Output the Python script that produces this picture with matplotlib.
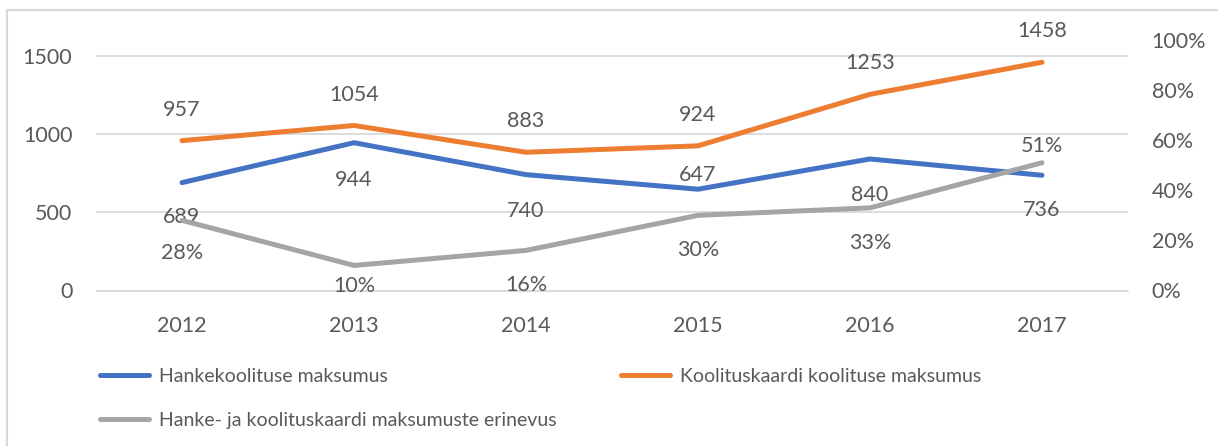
import matplotlib
matplotlib.use("Agg")
import matplotlib.pyplot as plt
from matplotlib.patches import Rectangle

# data
years = ["2012", "2013", "2014", "2015", "2016", "2017"]
hanke = [689, 944, 740, 647, 840, 736]
kaart = [957, 1054, 883, 924, 1253, 1458]
erinevus = [0.28, 0.10, 0.16, 0.30, 0.33, 0.51]

names = ["Hankekoolituse maksumus",
         "Koolituskaardi koolituse maksumus",
         "Hanke- ja koolituskaardi maksumuste erinevus"]

BLUE = "#4472C4"
ORANGE = "#ED7D31"
GRAY = "#A5A5A5"
TXT = "#595959"

plt.rcParams['font.family'] = ['Lato', 'DejaVu Sans']
FS = 15.5   # numbers
LFS = 14    # legend

fig = plt.figure(figsize=(12.18, 4.46), dpi=100)
fig.patches.append(Rectangle((7 / 1218, -0.01), 1.02, 1 - 10 / 446 + 0.01,
                             transform=fig.transFigure, fill=False,
                             edgecolor="#D9D9D9", linewidth=1.5))

ax = fig.add_axes([96 / 1218, 1 - 290.5 / 446, (1128 - 96) / 1218, (290.5 - 40) / 446])
ax2 = ax.twinx()

x = list(range(len(years)))
lw = 3.6
l1, = ax.plot(x, hanke, color=BLUE, lw=lw, solid_capstyle="round", zorder=3)
l2, = ax.plot(x, kaart, color=ORANGE, lw=lw, solid_capstyle="round", zorder=3)
l3, = ax2.plot(x, erinevus, color=GRAY, lw=lw, solid_capstyle="round", zorder=3)

ax.set_xlim(-0.5, len(years) - 0.5)
ax.set_ylim(0, 1600)
ax.set_yticks([0, 500, 1000, 1500])
ax2.set_ylim(0, 1)
ax2.set_yticks([0, 0.2, 0.4, 0.6, 0.8, 1.0])
ax2.set_yticklabels([f"{int(round(v * 100))}%" for v in ax2.get_yticks()])
ax.set_xticks(x)
ax.set_xticklabels(years)

ax.grid(axis="y", color="#D9D9D9", lw=1.3)
ax.set_axisbelow(True)
for a in (ax, ax2):
    for s in a.spines.values():
        s.set_visible(False)
    a.tick_params(length=0, labelsize=FS, labelcolor=TXT)
ax.tick_params(axis="y", pad=17)
ax.tick_params(axis="x", pad=18)
ax2.tick_params(axis="y", pad=17)
ax.spines["bottom"].set_visible(True)
ax.spines["bottom"].set_color("#D9D9D9")

# label offsets in px (negative = below)
off_hanke = [-34, -37, -36, 14, -36, -35]
off_kaart = [31, 30, 31, 31, 31, 31]
off_erin = [-33, -21, -35, -35, -35, 17]

def lab(a, ys, txts, offs):
    for i, (y, t, o) in enumerate(zip(ys, txts, offs)):
        a.annotate(t, (i, y), xytext=(0, o * 0.72), textcoords="offset points",
                   ha="center", va="center", fontsize=FS, color=TXT, zorder=5)

lab(ax, hanke, [str(v) for v in hanke], off_hanke)
lab(ax, kaart, [str(v) for v in kaart], off_kaart)
lab(ax2, erinevus, [f"{int(round(v * 100))}%" for v in erinevus], off_erin)

fig.legend([l1, l3, l2], [names[0], names[2], names[1]], ncol=2,
           loc="upper left", bbox_to_anchor=(100 / 1218, 1 - 368 / 446),
           frameon=False, fontsize=LFS, labelcolor=TXT,
           handlelength=2.5, handletextpad=0.55, columnspacing=3.3,
           labelspacing=1.38, borderaxespad=0, borderpad=0)

fig.savefig("out.png", dpi=100)
